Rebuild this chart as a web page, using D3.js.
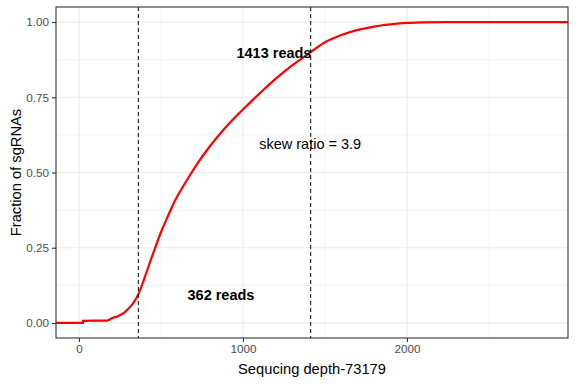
<!DOCTYPE html>
<html>
<head>
<meta charset="utf-8">
<script src="https://cdn.jsdelivr.net/npm/d3@7"></script>
<style>
  body { margin: 0; background: #fff; }
  svg { display: block; font-family: "Liberation Sans", Arial, sans-serif; }
</style>
</head>
<body>
<div id="app"></div>
<script>
`use strict`;

// sequencing depth (reads) vs cumulative fraction of sgRNAs
const depth = [2, 24, 24, 171, 207, 238, 280, 301, 331, 366, 400, 435, 470, 505, 540, 580, 620, 670, 720, 780, 850, 930, 1020, 1110, 1200, 1300, 1413, 1500, 1600, 1700, 1800, 1900, 2000, 2100, 2242, 2840];
const fraction = [0, 0, 0.007, 0.008, 0.017, 0.022, 0.036, 0.047, 0.066, 0.1, 0.15, 0.205, 0.258, 0.308, 0.352, 0.4, 0.44, 0.485, 0.528, 0.574, 0.622, 0.671, 0.72, 0.767, 0.812, 0.856, 0.9, 0.933, 0.957, 0.974, 0.985, 0.992, 0.997, 0.999, 1, 1];

const xTicks = [0, 1000, 2000];
const yTicks = [0, 0.25, 0.5, 0.75, 1];
const yTickLabels = [`0.00`, `0.25`, `0.50`, `0.75`, `1.00`];

const cutoffs = [362, 1413];
const notes = [
  {x: 866, y: 0.094, text: `362 reads`, bold: true},
  {x: 1189, y: 0.899, text: `1413 reads`, bold: true},
  {x: 1410, y: 0.595, text: `skew ratio = 3.9`, bold: false}
];

const W = 576, H = 384;
const M = {top: 7, right: 8, bottom: 46, left: 56};

let SVG = d3.select(`#app`).append(`svg`).attr(`width`, W).attr(`height`, H);

let lo = d3.min(depth), hi = d3.max(depth), pad = (hi - lo) * 0.05;

let x = d3.scaleLinear().domain([lo - pad, hi + pad]).range([M.left, W - M.right]);
let y = d3.scaleLinear().domain([-0.05, 1.05]).range([H - M.bottom, M.top]);

let G = SVG.append(`g`);

// grid, minor then major
let xMinor = [500, 1500, 2500], yMinor = [0.125, 0.375, 0.625, 0.875];

G.selectAll(`.vminor`).data(xMinor).enter().append(`line`)
  .attr(`x1`, d => x(d)).attr(`x2`, d => x(d)).attr(`y1`, M.top).attr(`y2`, H - M.bottom)
  .attr(`stroke`, `#f0f0f0`).attr(`stroke-width`, 0.8);

G.selectAll(`.hminor`).data(yMinor).enter().append(`line`)
  .attr(`y1`, d => y(d)).attr(`y2`, d => y(d)).attr(`x1`, M.left).attr(`x2`, W - M.right)
  .attr(`stroke`, `#f0f0f0`).attr(`stroke-width`, 0.8);

G.selectAll(`.vmajor`).data(xTicks).enter().append(`line`)
  .attr(`x1`, d => x(d)).attr(`x2`, d => x(d)).attr(`y1`, M.top).attr(`y2`, H - M.bottom)
  .attr(`stroke`, `#ebebeb`).attr(`stroke-width`, 1.2);

G.selectAll(`.hmajor`).data(yTicks).enter().append(`line`)
  .attr(`y1`, d => y(d)).attr(`y2`, d => y(d)).attr(`x1`, M.left).attr(`x2`, W - M.right)
  .attr(`stroke`, `#ebebeb`).attr(`stroke-width`, 1.2);

// ecdf curve, padded out to the panel edges like stat_ecdf
let Pts = depth.map((d, i) => [x(d), y(fraction[i])]);
Pts.unshift([M.left, y(0)]);
Pts.push([W - M.right, y(1)]);

SVG.append(`clipPath`).attr(`id`, `clip`).append(`rect`)
  .attr(`x`, M.left).attr(`y`, M.top).attr(`width`, W - M.left - M.right).attr(`height`, H - M.top - M.bottom);

SVG.append(`path`).datum(Pts)
  .attr(`clip-path`, `url(#clip)`)
  .attr(`d`, d3.line().curve(d3.curveMonotoneX))
  .attr(`fill`, `none`).attr(`stroke`, `#ff0000`).attr(`stroke-width`, 2.2);

// cutoff lines
SVG.selectAll(`.cut`).data(cutoffs).enter().append(`line`)
  .attr(`x1`, d => x(d)).attr(`x2`, d => x(d)).attr(`y1`, M.top).attr(`y2`, H - M.bottom)
  .attr(`stroke`, `#000`).attr(`stroke-width`, 1).attr(`stroke-dasharray`, `4,3`);

// annotations
SVG.selectAll(`.note`).data(notes).enter().append(`text`)
  .attr(`x`, d => x(d.x)).attr(`y`, d => y(d.y)).attr(`dy`, `0.35em`)
  .attr(`text-anchor`, `middle`).attr(`font-size`, `14.5px`)
  .attr(`font-weight`, d => d.bold ? `bold` : `normal`)
  .attr(`fill`, `#000`)
  .text(d => d.text);

// panel border
SVG.append(`rect`)
  .attr(`x`, M.left).attr(`y`, M.top).attr(`width`, W - M.left - M.right).attr(`height`, H - M.top - M.bottom)
  .attr(`fill`, `none`).attr(`stroke`, `#333333`).attr(`stroke-width`, 1.1);

// axes
let xAxis = SVG.append(`g`).attr(`transform`, `translate(0,${H - M.bottom})`)
  .call(d3.axisBottom(x).tickValues(xTicks).tickSize(4).tickPadding(3).tickFormat(d3.format(`d`)));

let yAxis = SVG.append(`g`).attr(`transform`, `translate(${M.left},0)`)
  .call(d3.axisLeft(y).tickValues(yTicks).tickSize(4).tickPadding(3).tickFormat((d, i) => yTickLabels[i]));

[xAxis, yAxis].forEach(A => {
  A.select(`.domain`).remove();
  A.selectAll(`line`).attr(`stroke`, `#333333`).attr(`stroke-width`, 1.1);
  A.selectAll(`text`).attr(`fill`, `#4d4d4d`).attr(`font-size`, `11.7px`).attr(`font-family`, `"Liberation Sans", Arial, sans-serif`);
});

// titles
SVG.append(`text`)
  .attr(`x`, (M.left + W - M.right) / 2).attr(`y`, H - 10)
  .attr(`text-anchor`, `middle`).attr(`font-size`, `14.7px`).attr(`fill`, `#000`)
  .text(`Sequcing depth-73179`);

SVG.append(`text`)
  .attr(`transform`, `translate(21,${(M.top + H - M.bottom) / 2}) rotate(-90)`)
  .attr(`text-anchor`, `middle`).attr(`font-size`, `14.7px`).attr(`fill`, `#000`)
  .text(`Fraction of sgRNAs`);
</script>
</body>
</html>
